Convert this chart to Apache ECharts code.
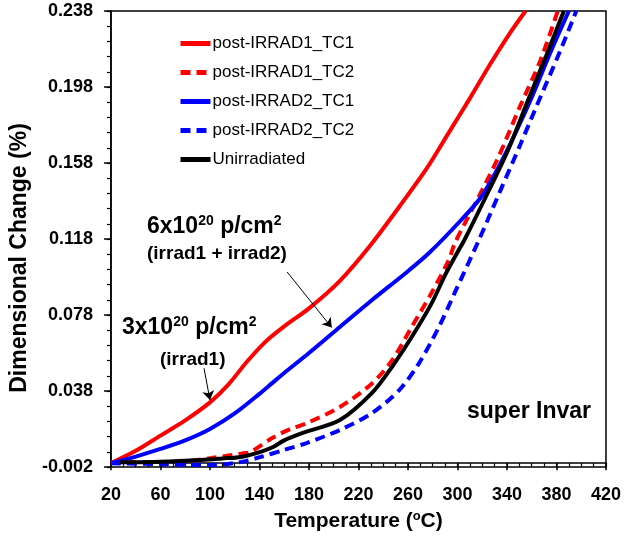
<!DOCTYPE html>
<html>
<head>
<meta charset="utf-8">
<script src="https://cdn.jsdelivr.net/npm/echarts@6/dist/echarts.min.js"></script>
<style>
html, body { margin: 0; padding: 0; background: #fff; }
#chart { width: 624px; height: 540px; }
</style>
</head>
<body>
<div id="chart"></div>
<script>
// tick labels
var xTicks = [20, 60, 100, 140, 180, 220, 260, 300, 340, 380, 420];
var yTicks = [-0.002, 0.038, 0.078, 0.118, 0.158, 0.198, 0.238];

// post-IRRAD1_TC1
var irr1tc1T = [20, 40, 60, 80, 100, 115, 130, 145, 160, 180, 205, 230, 253, 275, 293, 310, 327, 342, 355];
var irr1tc1V = [0.000, 0.0065, 0.0145, 0.0225, 0.032, 0.0415, 0.0535, 0.064, 0.072, 0.0815, 0.096, 0.115, 0.135, 0.155, 0.174, 0.192, 0.2106, 0.226, 0.238];
// post-IRRAD1_TC2
var irr1tc2T = [20, 60, 80, 101, 115, 125, 133, 151, 165, 178, 205, 231, 247, 263, 279, 293, 298, 317, 333, 350, 367, 381];
var irr1tc2V = [0.0005, 0.0005, 0.001, 0.0027, 0.004, 0.005, 0.006, 0.0135, 0.018, 0.021, 0.0296, 0.042, 0.054, 0.0717, 0.0896, 0.107, 0.116, 0.140, 0.161, 0.187, 0.212, 0.238];
// post-IRRAD2_TC1
var irr2tc1T = [20, 40, 60, 80, 100, 120, 140, 150, 160, 180, 205, 231, 258, 277, 303, 319, 330, 343, 359, 375, 390];
var irr2tc1V = [0.000, 0.0035, 0.0075, 0.012, 0.018, 0.0262, 0.0365, 0.042, 0.0475, 0.058, 0.0717, 0.0859, 0.100, 0.1106, 0.128, 0.140, 0.152, 0.1685, 0.191, 0.216, 0.238];
// post-IRRAD2_TC2
var irr2tc2T = [20, 60, 100, 125, 141, 160, 178, 205, 231, 253, 269, 285, 298, 317, 335, 351, 362, 383, 396];
var irr2tc2V = [0.000, -0.0005, -0.001, 0.0006, 0.0033, 0.007, 0.0106, 0.0175, 0.0264, 0.0385, 0.0527, 0.0717, 0.090, 0.117, 0.144, 0.168, 0.185, 0.217, 0.238];
// Unirradiated
var unirrT = [27, 60, 93, 110, 125, 141, 151, 160, 175, 205, 231, 247, 263, 279, 290, 300, 306, 325, 341, 357, 372, 386];
var unirrV = [0.0005, 0.0008, 0.0017, 0.0025, 0.0033, 0.006, 0.0085, 0.012, 0.0159, 0.0227, 0.037, 0.0506, 0.0664, 0.084, 0.099, 0.111, 0.118, 0.143, 0.165, 0.191, 0.215, 0.238];

function pairs(t, v) {
    var out = [];
    for (var i = 0; i < t.length; i++) out.push([t[i], v[i]]);
    return out;
}

// minor ticks between the labelled ones
var xMinor = [];
for (var i = 0; i < xTicks.length - 1; i++) {
    for (var k = 0; k < 4; k++) xMinor.push(xTicks[i] + k * (xTicks[i + 1] - xTicks[i]) / 4);
}
xMinor.push(xTicks[xTicks.length - 1]);
var yMinor = [];
for (var i = 0; i < yTicks.length - 1; i++) {
    for (var k = 0; k < 5; k++) yMinor.push(+(yTicks[i] + k * (yTicks[i + 1] - yTicks[i]) / 5).toFixed(4));
}
yMinor.push(yTicks[yTicks.length - 1]);

var FONT = 'Liberation Sans, Arial, sans-serif';
var tickFont = { color: '#000', fontFamily: FONT, fontWeight: 'bold', fontSize: 18 };

function lineSeries(name, data, color, dashed) {
    return {
        name: name,
        type: 'line',
        data: data,
        smooth: 0.3,
        symbol: 'none',
        showSymbol: false,
        clip: true,
        lineStyle: { color: color, width: 4, type: dashed ? [10, 6] : 'solid' },
        itemStyle: { color: color }
    };
}

var series = [
    lineSeries('post-IRRAD1_TC1', pairs(irr1tc1T, irr1tc1V), '#ff0000', false),
    lineSeries('post-IRRAD1_TC2', pairs(irr1tc2T, irr1tc2V), '#ff0000', true),
    lineSeries('post-IRRAD2_TC1', pairs(irr2tc1T, irr2tc1V), '#0000ff', false),
    lineSeries('post-IRRAD2_TC2', pairs(irr2tc2T, irr2tc2V), '#0000ff', true),
    lineSeries('Unirradiated', pairs(unirrT, unirrV), '#000000', false)
];
// annotation arrows
series[4].markLine = {
    silent: true,
    symbol: ['none', 'arrow'],
    symbolSize: 9,
    label: { show: false },
    lineStyle: { color: '#000', width: 1, type: 'solid' },
    data: [
        [{ coord: [162.4, 0.1006] }, { coord: [198.4, 0.0714] }],
        [{ coord: [95.2, 0.050] }, { coord: [100, 0.0333] }]
    ]
};

var option = {
    animation: false,
    backgroundColor: '#fff',
    grid: { left: 109, right: 15, top: 11, bottom: 73, show: true, borderColor: '#000', borderWidth: 1.5 },
    legend: {
        orient: 'vertical',
        left: 173,
        top: 30,
        itemWidth: 30,
        itemHeight: 14,
        itemGap: 12,
        itemStyle: { opacity: 0 },
        lineStyle: { width: 5 },
        textStyle: { color: '#000', fontFamily: FONT, fontSize: 17, lineHeight: 14, padding: [0, 0, 0, -3] },
        data: series.map(function (s) { return s.name; })
    },
    xAxis: [{
        type: 'value', min: 20, max: 420, position: 'bottom',
        name: '{n|Temperature (}{s|o}{n|C)}',
        nameLocation: 'middle', nameGap: 43,
        nameTextStyle: {
            rich: {
                n: { fontFamily: FONT, fontWeight: 'bold', fontSize: 21, color: '#000' },
                s: { fontFamily: FONT, fontWeight: 'bold', fontSize: 13, color: '#000', verticalAlign: 'top', padding: [0, 0, 9, 0] }
            }
        },
        axisLine: { lineStyle: { color: '#000', width: 1.5 } },
        axisTick: { customValues: xTicks, length: 7, lineStyle: { color: '#000', width: 1.5 } },
        axisLabel: Object.assign({ customValues: xTicks, margin: 19 }, tickFont),
        splitLine: { show: false }
    }, {
        type: 'value', min: 20, max: 420, position: 'bottom', offset: 0,
        axisLine: { show: false },
        axisTick: { customValues: xMinor, length: 4, lineStyle: { color: '#000', width: 1.2 } },
        axisLabel: { show: false },
        splitLine: { show: false }
    }],
    yAxis: [{
        type: 'value', min: -0.002, max: 0.238, position: 'left',
        name: 'Dimensional Change (%)',
        nameLocation: 'middle', nameGap: 79,
        nameTextStyle: { fontFamily: FONT, fontWeight: 'bold', fontSize: 23, color: '#000', padding: [0, 38, 0, 0] },
        axisLine: { show: true, lineStyle: { color: '#000', width: 1.5 } },
        axisTick: { show: true, customValues: yTicks, length: 7, lineStyle: { color: '#000', width: 1.5 } },
        axisLabel: Object.assign({
            customValues: yTicks, margin: 18,
            formatter: function (v) { return v.toFixed(3); }
        }, tickFont),
        splitLine: { show: false }
    }, {
        type: 'value', min: -0.002, max: 0.238, position: 'left', offset: 0,
        axisLine: { show: false },
        axisTick: { show: true, customValues: yMinor, length: 4, lineStyle: { color: '#000', width: 1.2 } },
        axisLabel: { show: false },
        splitLine: { show: false }
    }],
    graphic: [
        {
            type: 'text', left: 147, top: 214,
            style: {
                text: '{b|6x10}{s|20}{b| p/cm}{s|2}',
                rich: {
                    b: { fontFamily: FONT, fontWeight: 'bold', fontSize: 23, color: '#000', lineHeight: 26 },
                    s: { fontFamily: FONT, fontWeight: 'bold', fontSize: 14, color: '#000', verticalAlign: 'top', lineHeight: 14 }
                }
            }
        },
        {
            type: 'text', left: 147, top: 244,
            style: { text: '(irrad1 + irrad2)', fontFamily: FONT, fontWeight: 'bold', fontSize: 19, fill: '#000' }
        },
        {
            type: 'text', left: 122, top: 315,
            style: {
                text: '{b|3x10}{s|20}{b| p/cm}{s|2}',
                rich: {
                    b: { fontFamily: FONT, fontWeight: 'bold', fontSize: 23, color: '#000', lineHeight: 26 },
                    s: { fontFamily: FONT, fontWeight: 'bold', fontSize: 14, color: '#000', verticalAlign: 'top', lineHeight: 14 }
                }
            }
        },
        {
            type: 'text', left: 160, top: 350,
            style: { text: '(irrad1)', fontFamily: FONT, fontWeight: 'bold', fontSize: 19, fill: '#000' }
        },
        {
            type: 'text', left: 467, top: 400,
            style: { text: 'super Invar', fontFamily: FONT, fontWeight: 'bold', fontSize: 23, fill: '#000' }
        }
    ],
    series: series
};

var myChart = echarts.init(document.getElementById('chart'));
myChart.setOption(option);
</script>
</body>
</html>
